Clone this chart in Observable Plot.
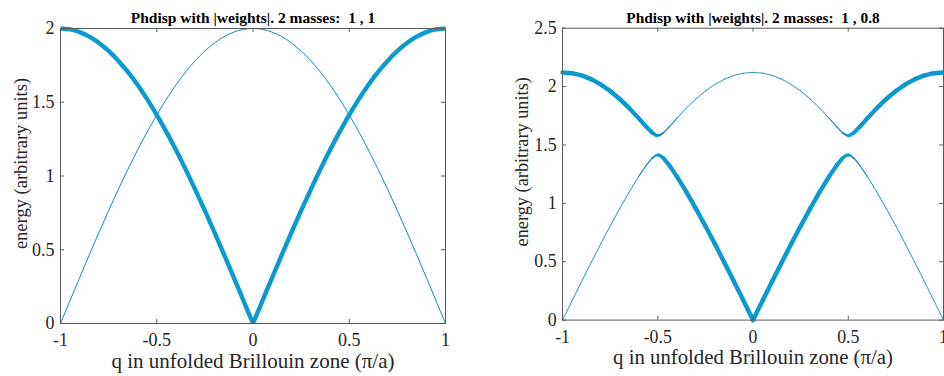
<!DOCTYPE html>
<html><head><meta charset="utf-8">
<script src="https://cdn.jsdelivr.net/npm/d3@7"></script>
<script src="https://cdn.jsdelivr.net/npm/@observablehq/plot@0.6"></script>
<style>
html,body{margin:0;padding:0;background:#fff;}
#wrap{position:relative;width:944px;height:376px;overflow:hidden;background:#fff;}
#p1{position:absolute;left:0;top:0;}
#p2{position:absolute;left:472px;top:0;}
</style></head><body><div id="wrap"><div id="p1"></div><div id="p2"></div></div>
<script>
// ---- data ----
const titles = ["Phdisp with |weights|. 2 masses:  1 , 1", "Phdisp with |weights|. 2 masses:  1 , 0.8"];
const xLabel = "q in unfolded Brillouin zone (\u03C0/a)";
const yLabel = "energy (arbitrary units)";
const xTicks = [-1, -0.5, 0, 0.5, 1];
const yTicksL = [0, 0.5, 1, 1.5, 2];
const yTicksR = [0, 0.5, 1, 1.5, 2, 2.5];

// left panel (masses 1, 1)
const qL = [-1,-0.95,-0.9,-0.85,-0.8,-0.75,-0.7,-0.65,-0.6,-0.55,-0.5,-0.45,-0.4,-0.35,-0.3,-0.25,-0.2,-0.15,-0.1,-0.05,0,
            0.05,0.1,0.15,0.2,0.25,0.3,0.35,0.4,0.45,0.5,0.55,0.6,0.65,0.7,0.75,0.8,0.85,0.9,0.95,1];
const thickL = [2,1.9938,1.9754,1.9447,1.9021,1.8478,1.7820,1.7053,1.6180,1.5208,1.4142,1.2989,1.1756,1.0450,0.9080,0.7654,0.6180,0.4669,0.3129,0.1569,0,
                0.1569,0.3129,0.4669,0.6180,0.7654,0.9080,1.0450,1.1756,1.2989,1.4142,1.5208,1.6180,1.7053,1.7820,1.8478,1.9021,1.9447,1.9754,1.9938,2];
const thinL = [0,0.1569,0.3129,0.4669,0.6180,0.7654,0.9080,1.0450,1.1756,1.2989,1.4142,1.5208,1.6180,1.7053,1.7820,1.8478,1.9021,1.9447,1.9754,1.9938,2,
               1.9938,1.9754,1.9447,1.9021,1.8478,1.7820,1.7053,1.6180,1.5208,1.4142,1.2989,1.1756,1.0450,0.9080,0.7654,0.6180,0.4669,0.3129,0.1569,0];

// right panel (masses 1, 0.8)
const qR = [-1,-0.95,-0.9,-0.85,-0.8,-0.75,-0.7,-0.65,-0.6,-0.56,-0.53,-0.51,-0.5,-0.49,-0.47,-0.44,-0.4,-0.35,-0.3,-0.25,-0.2,-0.15,-0.1,-0.05,0,
            0.05,0.1,0.15,0.2,0.25,0.3,0.35,0.4,0.44,0.47,0.49,0.5,0.51,0.53,0.56,0.6,0.65,0.7,0.75,0.8,0.85,0.9,0.95,1];
const lowerR = [0,0.1654,0.3297,0.4920,0.6510,0.8057,0.9550,1.0975,1.2309,1.3274,1.3868,1.4108,1.4142,1.4108,1.3868,1.3274,1.2309,1.0975,0.9550,0.8057,0.6510,0.4920,0.3297,0.1654,0,
                0.1654,0.3297,0.4920,0.6510,0.8057,0.9550,1.0975,1.2309,1.3274,1.3868,1.4108,1.4142,1.4108,1.3868,1.3274,1.2309,1.0975,0.9550,0.8057,0.6510,0.4920,0.3297,0.1654,0];
const upperR = [2.1213,2.1149,2.0955,2.0635,2.0190,1.9623,1.8942,1.8154,1.7277,1.6547,1.6052,1.5842,1.5811,1.5842,1.6052,1.6547,1.7277,1.8154,1.8942,1.9623,2.0190,2.0635,2.0955,2.1149,2.1213,
                2.1149,2.0955,2.0635,2.0190,1.9623,1.8942,1.8154,1.7277,1.6547,1.6052,1.5842,1.5811,1.5842,1.6052,1.6547,1.7277,1.8154,1.8942,1.9623,2.0190,2.0635,2.0955,2.1149,2.1213];
const wLowerR = [0.003,0.003,0.003,0.004,0.005,0.006,0.009,0.014,0.030,0.071,0.178,0.365,0.5,0.635,0.822,0.929,0.970,0.986,0.991,0.994,0.995,0.996,0.997,0.997,0.997,
                 0.997,0.997,0.996,0.995,0.994,0.991,0.986,0.970,0.929,0.822,0.635,0.5,0.365,0.178,0.071,0.030,0.014,0.009,0.006,0.005,0.004,0.003,0.003,0.003];
const wUpperR = [0.997,0.997,0.997,0.996,0.995,0.994,0.991,0.986,0.970,0.929,0.822,0.635,0.5,0.365,0.178,0.071,0.030,0.014,0.009,0.006,0.005,0.004,0.003,0.003,0.003,
                 0.003,0.003,0.004,0.005,0.006,0.009,0.014,0.030,0.071,0.178,0.365,0.5,0.635,0.822,0.929,0.970,0.986,0.991,0.994,0.995,0.996,0.997,0.997,0.997];

// ---- styling ----
const BLUE = "#0a9ad0";
const BLUE_THIN = "#1b87b4";
const AXIS = "#5a5a5a";
const FONT = "'Liberation Serif', 'Times New Roman', serif";
const fmt = d => String(d);

function frameMarks(W, H, yTicks, title, ylx, yly) {
  return [
    Plot.frame({stroke: AXIS, strokeWidth: 1}),
    Plot.tickX(xTicks, {x: d => d, stroke: AXIS, insetTop: H - 4}),
    Plot.tickX(xTicks, {x: d => d, stroke: AXIS, insetBottom: H - 4}),
    Plot.tickY(yTicks, {y: d => d, stroke: AXIS, insetRight: W - 4}),
    Plot.tickY(yTicks, {y: d => d, stroke: AXIS, insetLeft: W - 4}),
    Plot.text([title], {frameAnchor: "top", textAnchor: "middle", lineAnchor: "middle", dy: -10.5, fontSize: 15.5, fontWeight: "bold", fill: "#000"}),
    Plot.text([xLabel], {frameAnchor: "bottom", textAnchor: "middle", lineAnchor: "middle", dy: 38, fontSize: 21, fill: "#262626"}),
    Plot.text([yLabel], {frameAnchor: "left", textAnchor: "middle", rotate: -90, lineAnchor: "middle", dx: ylx, dy: yly, fontSize: 18.5, fill: "#262626"})
  ];
}

function segs(band, w) {
  const out = [];
  for (let i = 0; i < qR.length - 1; i++) {
    const ww = (w[i] + w[i + 1]) / 2;
    out.push({x1: qR[i], y1: band[i], x2: qR[i + 1], y2: band[i + 1], w: ww});
  }
  return out;
}

// left chart
const leftRows = [];
qL.forEach((q, i) => {
  if (q <= 0) leftRows.push({q, e: thickL[i], s: "a"});
  if (q >= 0) leftRows.push({q, e: thickL[i], s: "b"});
});
const thinRows = qL.map((q, i) => ({q, e: thinL[i]}));

const H = 295;
const p1 = Plot.plot({
  width: 472, height: 376,
  marginLeft: 60, marginRight: 27, marginTop: 28, marginBottom: 53,
  style: {fontFamily: FONT, fontSize: "18px", color: "#262626", background: "transparent", overflow: "visible"},
  x: {domain: [-1, 1], ticks: xTicks, tickSize: 0, tickPadding: 10, tickFormat: fmt, label: null},
  y: {domain: [0, 2], ticks: yTicksL, tickSize: 0, tickPadding: 6, tickFormat: fmt, label: null},
  marks: [
    Plot.line(thinRows, {x: "q", y: "e", stroke: BLUE_THIN, strokeWidth: 1, curve: "catmull-rom"}),
    Plot.line(leftRows, {x: "q", y: "e", z: "s", stroke: BLUE, strokeWidth: 4.4, curve: "catmull-rom", strokeLinecap: "butt"}),
    ...frameMarks(385, H, yTicksL, titles[0], -39, -12.5)
  ]
});
document.getElementById("p1").appendChild(p1);

// right chart
const segData = [...segs(lowerR, wLowerR), ...segs(upperR, wUpperR)];
const p2 = Plot.plot({
  width: 477, height: 376,
  marginLeft: 91, marginRight: 1, marginTop: 28, marginBottom: 53,
  style: {fontFamily: FONT, fontSize: "18px", color: "#262626", background: "transparent", overflow: "visible"},
  x: {domain: [-1, 1], ticks: xTicks, tickSize: 0, tickPadding: 10, tickFormat: fmt, label: null},
  y: {domain: [0, 2.5], ticks: yTicksR, tickSize: 0, tickPadding: 6, tickFormat: fmt, label: null},
  marks: [
    Plot.link(segData, {x1: "x1", y1: "y1", x2: "x2", y2: "y2",
      stroke: d => d.w < 0.3 ? BLUE_THIN : BLUE,
      strokeWidth: d => 0.9 + 3.6 * d.w, strokeLinecap: "round"}),
    ...frameMarks(385, H, yTicksR, titles[1], -41, -12.5)
  ]
});
document.getElementById("p2").appendChild(p2);
</script>
</body></html>
